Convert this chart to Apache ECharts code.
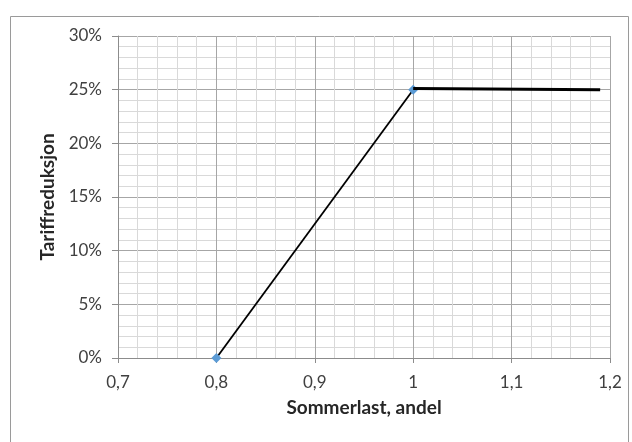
<!DOCTYPE html>
<html>
<head>
<meta charset="utf-8">
<script src="https://cdn.jsdelivr.net/npm/echarts@6/dist/echarts.min.js"></script>
<style>html,body{margin:0;padding:0;background:#fff}#c{width:632px;height:442px}</style>
</head>
<body>
<div id="c"></div>
<script>
// Data
const rampPoints = [[0.8, 0], [1.0, 0.25]];
const flatPoints = [[1.0, 0.251], [1.19, 0.25]];
const xTitle = 'Sommerlast, andel';
const yTitle = 'Tariffreduksjon';

const chart = echarts.init(document.getElementById('c'));
const font = 'Lato, "Open Sans", sans-serif';
chart.setOption({
  animation: false,
  backgroundColor: '#fff',
  grid: { left: 118, top: 36, right: 22, bottom: 84 },
  graphic: [{
    type: 'rect', silent: true, z: -10,
    shape: { x: 10.5, y: 16.5, width: 618, height: 460 },
    style: { fill: 'none', stroke: '#9a9a9a', lineWidth: 1 }
  }],
  xAxis: {
    type: 'value', min: 0.7, max: 1.2, interval: 0.1,
    name: xTitle, nameLocation: 'middle', nameGap: 40,
    nameTextStyle: { fontFamily: font, fontWeight: 'bold', fontSize: 19, color: '#262626' },
    axisLine: { show: true, lineStyle: { color: '#8c8c8c', width: 1 } },
    axisTick: { show: true, length: 5, lineStyle: { color: '#8c8c8c' } },
    axisLabel: { margin: 16, fontFamily: font, fontSize: 17, color: '#404040',
      formatter: v => String(+v.toFixed(1)).replace('.', ',') },
    splitLine: { show: true, lineStyle: { color: '#a6a6a6', width: 1 } },
    minorTick: { show: false, splitNumber: 5 },
    minorSplitLine: { show: true, lineStyle: { color: '#d9d9d9', width: 1 } }
  },
  yAxis: {
    type: 'value', min: 0, max: 0.3, interval: 0.05,
    name: yTitle, nameLocation: 'middle', nameRotate: 90, nameGap: 60,
    nameTextStyle: { fontFamily: font, fontWeight: 'bold', fontSize: 19, color: '#262626' },
    axisLine: { show: true, lineStyle: { color: '#8c8c8c', width: 1 } },
    axisTick: { show: true, length: 6, lineStyle: { color: '#8c8c8c' } },
    axisLabel: { margin: 16, fontFamily: font, fontSize: 17, color: '#404040',
      formatter: v => Math.round(v * 100) + '%' },
    splitLine: { show: true, lineStyle: { color: '#a6a6a6', width: 1 } },
    minorTick: { show: false, splitNumber: 5 },
    minorSplitLine: { show: true, lineStyle: { color: '#d9d9d9', width: 1 } }
  },
  series: [{
    type: 'line', data: rampPoints, z: 3,
    symbol: 'diamond', symbolSize: 10,
    itemStyle: { color: '#5b9bd5' },
    lineStyle: { color: '#000', width: 1.8 }
  }, {
    type: 'line', data: flatPoints, z: 4,
    showSymbol: false, symbol: 'none',
    lineStyle: { color: '#000', width: 3 }
  }]
});
</script>
</body>
</html>
